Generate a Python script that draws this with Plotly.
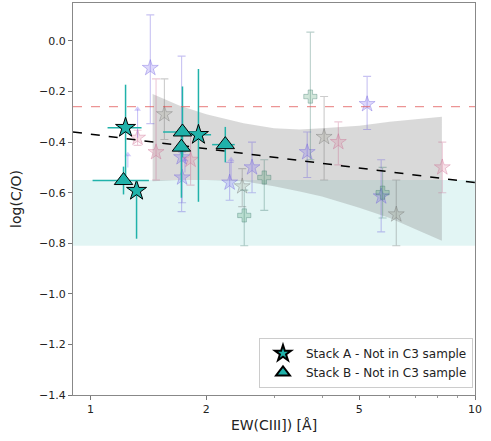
import numpy as np
import plotly.graph_objects as go

# ---------------- data ----------------
# Fit line and confidence band
fit_x = [0.9, 10.0]
fit_y = [-0.36, -0.56]
band_x = [1.45, 1.7, 2.0, 2.5, 3.0, 3.5, 4.0, 5.0, 6.0, 7.0, 8.2]
band_upper = [-0.21, -0.255, -0.29, -0.325, -0.345, -0.35, -0.345, -0.335, -0.32, -0.31, -0.30]
band_lower = [-0.555, -0.55, -0.55, -0.555, -0.575, -0.595, -0.615, -0.66, -0.70, -0.745, -0.79]
solar_co = -0.26
cyan_lo, cyan_hi = -0.81, -0.55

# Background (faded) samples
purple_x = [1.43, 1.725, 1.73, 2.30, 2.63, 3.66, 5.24, 5.70]
purple_y = [-0.107, -0.46, -0.54, -0.56, -0.50, -0.44, -0.25, -0.615]
purple_up = [0.21, 0.40, 0.10, 0.08, 0.10, 0.08, 0.11, 0.145]
purple_dn = [0.22, 0.215, 0.10, 0.07, 0.10, 0.10, 0.10, 0.14]

pink_x = [1.325, 1.48, 1.82, 4.41, 8.22]
pink_y = [-0.383, -0.44, -0.47, -0.40, -0.50]
pink_up = [0.03, 0.29, 0.10, 0.08, 0.10]
pink_dn = [0.03, 0.11, 0.10, 0.09, 0.10]

gray_x = [1.556, 2.48, 4.05, 6.24]
gray_y = [-0.29, -0.575, -0.38, -0.686]
gray_up = [0.14, 0.07, 0.16, 0.136]
gray_dn = [0.10, 0.08, 0.17, 0.124]

green_x = [2.51, 2.83, 3.73, 5.75]
green_y = [-0.69, -0.54, -0.22, -0.60]
green_up = [0.10, 0.07, 0.255, 0.10]
green_dn = [0.12, 0.13, 0.25, 0.10]

# lower limits (arrows)
lim_x = [1.325, 1.25, 2.32, 1.76]
lim_y = [-0.383, -0.50, -0.55, -0.52]
lim_top = [-0.27, -0.45, -0.47, -0.47]

# Stack A (stars) and Stack B (triangles)
a_x = [1.233, 1.317, 1.908]
a_y = [-0.343, -0.592, -0.371]
a_up = [0.17, 0.04, 0.26]
a_dn = [0.20, 0.19, 0.265]
a_xp = [0.124, 0.0, 0.15]
a_xm = [0.126, 0.0, 0.10]

b_x = [1.218, 1.734, 1.723, 2.241]
b_y = [-0.552, -0.36, -0.42, -0.41]
b_up = [0.055, 0.18, 0.06, 0.07]
b_dn = [0.055, 0.10, 0.20, 0.07]
b_xp = [0.20, 0.16, 0.0, 0.13]
b_xm = [0.206, 0.19, 0.0, 0.17]

y_ticks = [0.0, -0.2, -0.4, -0.6, -0.8, -1.0, -1.2, -1.4]
y_ticklabels = ["0.0", "\u22120.2", "\u22120.4", "\u22120.6", "\u22120.8", "\u22121.0", "\u22121.2", "\u22121.4"]
x_ticks = [1, 2, 5, 10]
x_ticklabels = ["1", "2", "5", "10"]

TEAL = "#20b2aa"
FONT = "DejaVu Sans"

fig = go.Figure()

# confidence band
fig.add_trace(go.Scatter(x=band_x + band_x[::-1], y=band_upper + band_lower[::-1],
                         fill="toself", fillcolor="rgba(128,128,128,0.30)",
                         line=dict(width=0), mode="lines", showlegend=False, hoverinfo="skip"))

def faded(xs, ys, up, dn, color, ecolor, symbol, size):
    fig.add_trace(go.Scatter(
        x=xs, y=ys, mode="markers", showlegend=False,
        marker=dict(symbol=symbol, size=size, color=color,
                    line=dict(color=ecolor, width=1)),
        error_y=dict(type="data", symmetric=False, array=up, arrayminus=dn,
                     color=ecolor, thickness=1.1, width=4)))

faded(purple_x, purple_y, purple_up, purple_dn, "rgba(123,104,238,0.25)", "rgba(110,95,220,0.38)", "star", 12)
faded(pink_x, pink_y, pink_up, pink_dn, "rgba(219,112,147,0.20)", "rgba(200,100,140,0.35)", "star", 12)
faded(gray_x, gray_y, gray_up, gray_dn, "rgba(140,140,120,0.20)", "rgba(110,110,110,0.35)", "star", 12)
faded(green_x, green_y, green_up, green_dn, "rgba(46,139,87,0.22)", "rgba(60,120,110,0.35)", "cross", 11)

# lower limit arrows
fig.add_trace(go.Scatter(
    x=lim_x, y=lim_y, mode="markers", showlegend=False,
    marker=dict(size=1, color="rgba(0,0,0,0)"),
    error_y=dict(type="data", symmetric=False,
                 array=[t - y for t, y in zip(lim_top, lim_y)],
                 arrayminus=[0] * len(lim_y), color="rgba(123,104,238,0.40)", thickness=1.1, width=0)))
fig.add_trace(go.Scatter(
    x=lim_x, y=lim_top, mode="markers", showlegend=False,
    marker=dict(symbol="triangle-up", size=6, color="rgba(123,104,238,0.35)")))

# fit line
fig.add_trace(go.Scatter(x=fit_x, y=fit_y, mode="lines", showlegend=False,
                         line=dict(color="black", width=1.5, dash="dash")))

# Stack A / B
fig.add_trace(go.Scatter(
    x=a_x, y=a_y, mode="markers", name="Stack A - Not in C3 sample",
    marker=dict(symbol="star", size=15, color=TEAL, line=dict(color="black", width=1)),
    error_y=dict(type="data", symmetric=False, array=a_up, arrayminus=a_dn, color=TEAL, thickness=1.5, width=0),
    error_x=dict(type="data", symmetric=False, array=a_xp, arrayminus=a_xm, color=TEAL, thickness=1.5, width=0)))
fig.add_trace(go.Scatter(
    x=b_x, y=b_y, mode="markers", name="Stack B - Not in C3 sample",
    marker=dict(symbol="triangle-up", size=16, color=TEAL, line=dict(color="black", width=1)),
    error_y=dict(type="data", symmetric=False, array=b_up, arrayminus=b_dn, color=TEAL, thickness=1.5, width=0),
    error_x=dict(type="data", symmetric=False, array=b_xp, arrayminus=b_xm, color=TEAL, thickness=1.5, width=0)))

fig.update_layout(
    width=491, height=441,
    margin=dict(l=73, r=16, t=3, b=46),
    paper_bgcolor="white", plot_bgcolor="white",
    font=dict(family=FONT, size=11, color="#222"),
    shapes=[
        dict(type="rect", xref="paper", yref="y", x0=0, x1=1, y0=cyan_lo, y1=cyan_hi,
             fillcolor="rgba(32,178,170,0.13)", line=dict(width=0), layer="below"),
        dict(type="line", xref="paper", yref="y", x0=0, x1=1, y0=solar_co, y1=solar_co,
             line=dict(color="rgba(225,90,90,0.8)", width=1, dash="dash"), layer="above"),
    ],
    legend=dict(x=0.995, y=0.018, xanchor="right", yanchor="bottom",
                bgcolor="rgba(255,255,255,0.85)", bordercolor="#cccccc", borderwidth=1,
                font=dict(family=FONT, size=12, color="#222"), itemsizing="constant",
                itemwidth=36, tracegroupgap=0),
    xaxis=dict(type="log", range=[np.log10(0.9), 1.0],
               tickvals=x_ticks, ticktext=x_ticklabels,
               ticks="outside", ticklen=4, tickcolor="#777",
               tickfont=dict(size=11),
               minor=dict(ticks="outside", ticklen=2, tickcolor="#999",
                          tickvals=[3, 4, 6, 7, 8, 9]),
               showgrid=False, zeroline=False,
               showline=True, linecolor="#888", linewidth=1, mirror=True,
               title=dict(text="EW(CIII]) [Å]", font=dict(family=FONT, size=14), standoff=4)),
    yaxis=dict(range=[-1.4, 0.15], tickvals=y_ticks, ticktext=y_ticklabels,
               ticks="outside", ticklen=4, tickcolor="#777",
               tickfont=dict(size=11),
               showgrid=False, zeroline=False,
               showline=True, linecolor="#888", linewidth=1, mirror=True,
               title=dict(text="log(C/O)", font=dict(family=FONT, size=14), standoff=14)),
)

fig.write_html("out.html")
